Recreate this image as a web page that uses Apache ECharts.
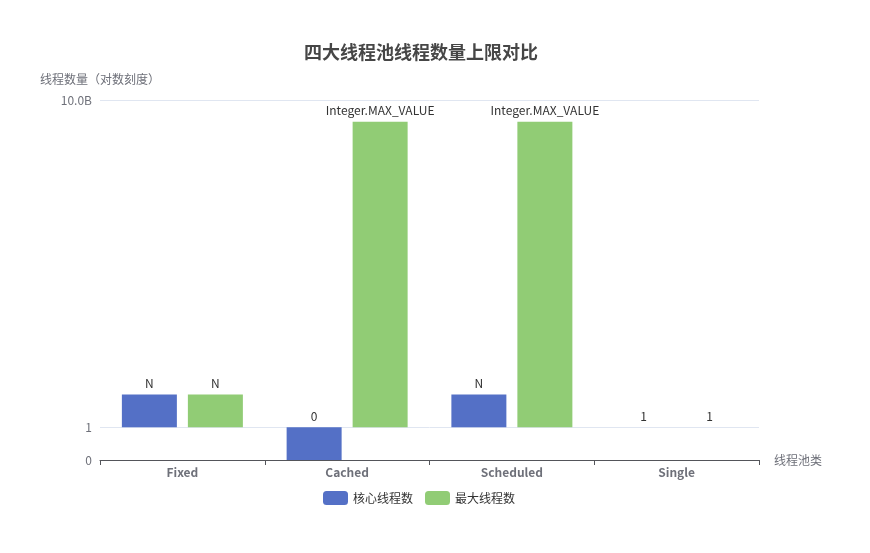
<!DOCTYPE html>
<html><head><meta charset="utf-8">
<script src="https://cdn.jsdelivr.net/npm/echarts@6/dist/echarts.min.js"></script>
<style>html,body{margin:0;padding:0;background:#fff}#c{width:870px;height:553px}</style>
</head><body><div id="c"></div>
<script>
const categories = ['Fixed', 'Cached', 'Scheduled', 'Single'];
const coreValues = [10, 0.1, 10, 1];
const coreLabels = ['N', '0', 'N', '1'];
const maxValues = [10, 2147483647, 2147483647, 1];
const maxLabels = ['N', 'Integer.MAX_VALUE', 'Integer.MAX_VALUE', '1'];
const seriesNames = ['核心线程数', '最大线程数'];

const chart = echarts.init(document.getElementById('c'));
const font = '"Noto Sans CJK SC", "Noto Sans", sans-serif';
function fmt(v) {
  if (v >= 1e9) return (v / 1e9).toFixed(1) + 'B';
  if (v >= 1e6) return (v / 1e6).toFixed(1) + 'M';
  return String(Math.round(v));
}
chart.setOption({
  textStyle: { fontFamily: font },
  title: { text: '四大线程池线程数量上限对比', left: 299, top: 38,
    textStyle: { fontSize: 18, fontWeight: 'bold', color: '#464646', fontFamily: font } },
  legend: { left: 318, bottom: 43, itemWidth: 25, itemHeight: 14, itemGap: 12, textStyle: { color: '#333', fontSize: 12 } },
  grid: { left: 100, right: 111, top: 100, bottom: 93, containLabel: false },
  xAxis: { type: 'category', data: categories, name: '线程池类', nameGap: 15,
    nameTextStyle: { color: '#6e7079', fontSize: 12 },
    axisLabel: { fontWeight: 'bold', color: '#6e7079', fontSize: 12, margin: 6 },
    axisTick: { show: true } },
  yAxis: { type: 'log', logBase: 1e10, min: 0.1, max: 1e10,
    name: '线程数量（对数刻度）', nameGap: 15, nameTextStyle: { color: '#6e7079', align: 'center' },
    axisLabel: { formatter: fmt, color: '#6e7079' },
    splitLine: { lineStyle: { color: '#e0e6f1' } } },
  series: [
    { name: seriesNames[0], type: 'bar', barWidth: 55, barGap: '20%', itemStyle: { color: '#5470c6' },
      data: coreValues,
      label: { show: true, position: 'top', color: '#333', fontSize: 12,
        formatter: p => coreLabels[p.dataIndex] } },
    { name: seriesNames[1], type: 'bar', barWidth: 55, itemStyle: { color: '#91cc75' },
      data: maxValues,
      label: { show: true, position: 'top', color: '#333', fontSize: 12,
        formatter: p => maxLabels[p.dataIndex] } }
  ]
});
</script></body></html>
